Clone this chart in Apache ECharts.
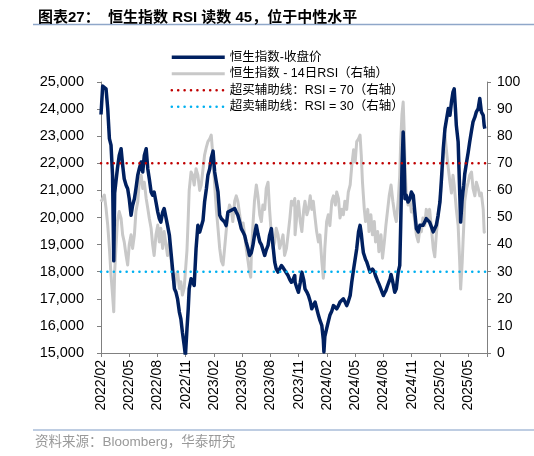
<!DOCTYPE html>
<html>
<head>
<meta charset="utf-8">
<script src="https://cdn.jsdelivr.net/npm/echarts/dist/echarts.min.js"></script>
<style>html,body{margin:0;padding:0;background:#fff}#chart{width:534px;height:456px}</style>
</head>
<body>
<div id="chart"></div>
<script>
// ---- data ----
const dates = [
 '2022-02-01','2022-02-06','2022-02-11','2022-02-16','2022-02-21','2022-02-26','2022-03-03','2022-03-08','2022-03-12','2022-03-15',
 '2022-03-19','2022-03-24','2022-03-30','2022-04-05','2022-04-10','2022-04-15','2022-04-21','2022-04-26','2022-05-01','2022-05-07',
 '2022-05-12','2022-05-18','2022-05-23','2022-05-29','2022-06-03','2022-06-09','2022-06-14','2022-06-19','2022-06-25','2022-06-30',
 '2022-07-05','2022-07-11','2022-07-16','2022-07-21','2022-07-27','2022-08-02','2022-08-07','2022-08-12','2022-08-18','2022-08-23',
 '2022-08-29','2022-09-03','2022-09-09','2022-09-14','2022-09-19','2022-09-25','2022-09-30','2022-10-05','2022-10-11','2022-10-16',
 '2022-10-21','2022-10-27','2022-10-31','2022-11-05','2022-11-09','2022-11-12','2022-11-18','2022-11-23','2022-11-28','2022-12-04',
 '2022-12-10','2022-12-16','2022-12-21','2022-12-27','2023-01-01','2023-01-07','2023-01-12','2023-01-18','2023-01-23','2023-01-29',
 '2023-02-03','2023-02-08','2023-02-13','2023-02-18','2023-02-23','2023-02-28','2023-03-05','2023-03-10','2023-03-16','2023-03-21',
 '2023-03-27','2023-04-01','2023-04-07','2023-04-12','2023-04-17','2023-04-23','2023-04-28','2023-05-04','2023-05-09','2023-05-14',
 '2023-05-20','2023-05-25','2023-05-29','2023-05-31','2023-06-05','2023-06-10','2023-06-16','2023-06-21','2023-06-27','2023-07-02',
 '2023-07-07','2023-07-13','2023-07-18','2023-07-24','2023-07-29','2023-08-04','2023-08-09','2023-08-15','2023-08-20','2023-08-26',
 '2023-08-31','2023-09-06','2023-09-11','2023-09-16','2023-09-22','2023-09-27','2023-10-03','2023-10-08','2023-10-13','2023-10-19',
 '2023-10-20','2023-10-26','2023-10-31','2023-11-06','2023-11-11','2023-11-17','2023-11-21','2023-11-27','2023-12-02','2023-12-08',
 '2023-12-13','2023-12-18','2023-12-24','2023-12-29','2024-01-04','2024-01-09','2024-01-15','2024-01-20','2024-01-22','2024-01-25',
 '2024-01-31','2024-02-05','2024-02-10','2024-02-16','2024-02-21','2024-02-27','2024-03-02','2024-03-08','2024-03-13','2024-03-19',
 '2024-03-24','2024-03-29','2024-04-04','2024-04-09','2024-04-15','2024-04-20','2024-04-26','2024-05-01','2024-05-06','2024-05-12',
 '2024-05-17','2024-05-21','2024-05-25','2024-05-28','2024-05-31','2024-06-04','2024-06-08','2024-06-11','2024-06-15','2024-06-18',
 '2024-06-21','2024-06-26','2024-06-29','2024-07-02','2024-07-06','2024-07-10','2024-07-13','2024-07-17','2024-07-21','2024-07-24',
 '2024-07-29','2024-08-01','2024-08-04','2024-08-09','2024-08-12','2024-08-15','2024-08-20','2024-08-23','2024-08-26','2024-09-01',
 '2024-09-07','2024-09-12','2024-09-18','2024-09-23','2024-09-26','2024-09-30','2024-10-04','2024-10-07','2024-10-10','2024-10-14',
 '2024-10-20','2024-10-26','2024-10-31','2024-11-06','2024-11-11','2024-11-16','2024-11-22','2024-11-27','2024-12-02','2024-12-07',
 '2024-12-13','2024-12-18','2024-12-24','2024-12-29','2025-01-04','2025-01-10','2025-01-15','2025-01-20','2025-01-26','2025-02-01',
 '2025-02-05','2025-02-11','2025-02-16','2025-02-21','2025-02-26','2025-03-03','2025-03-08','2025-03-13','2025-03-17','2025-03-21',
 '2025-03-24','2025-03-30','2025-04-04','2025-04-07','2025-04-12','2025-04-15','2025-04-17','2025-04-20','2025-04-26','2025-05-01',
 '2025-05-06','2025-05-12','2025-05-17','2025-05-23','2025-05-28','2025-06-03','2025-06-08','2025-06-13','2025-06-19','2025-06-22',
 '2025-06-24'
];
const hsiClose = [
 23800,24850,24875,24750,24020,22910,22670,21560,18400,20900,
 21310,21800,22290,22540,21930,21430,21190,21060,20690,20080,
 20440,20690,21060,21560,21800,22050,21680,22290,22540,21800,
 21430,20940,20820,20940,20570,20200,19960,19830,20200,20330,
 20330,19710,19340,18720,18100,17370,17240,17000,16510,16260,
 15770,15280,14900,15900,16630,17370,17740,17740,17490,18850,
 19710,19460,19466,19900,20570,21060,21556,21800,22200,22450,
 21680,21300,20940,20080,19957,19900,19834,19700,20200,20230,
 20266,20300,20330,20200,20080,19830,19590,19460,19340,19100,
 18850,18600,18550,18700,18970,19340,19710,19400,19100,19000,
 18970,18600,18800,18970,19340,19590,19000,18355,18100,17985,
 18100,18230,18150,18100,17950,17860,17700,17610,17700,17860,
 17610,17400,17240,17600,17985,17700,17370,17250,17120,16900,
 16630,16750,16880,16650,16390,16200,16020,15500,15040,15600,
 15900,16150,16390,16550,16750,16700,16630,16750,16880,16950,
 17000,16900,16750,16900,17120,17610,18100,18480,18850,19470,
 19710,19400,18970,18700,18600,18450,18355,18250,18100,17985,
 18050,18100,18100,18000,17850,17740,17650,17550,17490,17350,
 17200,17120,17200,17300,17370,17500,17650,17740,17900,17610,
 17240,17370,17985,18230,19710,21800,23155,22170,20690,20820,
 20570,20690,20940,20820,20200,19590,19470,19710,19710,19710,
 19830,19960,19900,19830,19650,19470,19400,19710,20080,20570,
 21310,22540,23280,23650,24020,23770,24260,24630,24750,24020,
 23400,22790,20940,19830,20690,21000,21190,21600,22050,22400,
 22790,23200,23530,23700,23900,24020,24390,23900,23770,23400,
 23280
];
const rsi14 = [
 55.8,57,58.3,53.4,47.2,38.6,28.8,21.4,15.2,30,
 38.6,48.5,52.2,49.7,43.6,41,36,32.5,40,43.6,
 38.6,43.6,52.2,55.8,63,65.6,60.7,63,57,53.4,
 49.7,46,40,36,43.6,47.2,41,46,38.6,44.8,
 40,36,41,35,28.8,23.8,28.8,30,23.8,26.3,
 21.4,24,24.5,38,50,60,66.8,65.6,62,68,
 65.6,60,62,68,73,76,78,79,80.4,72,
 62,53,46,38.6,34,32.5,38.6,44.8,51,54.6,
 53,48.5,56,58,56,51,46,48,43.6,38.6,
 34,30,28,36,47,56,62,58,51,48.5,
 54.6,53,60.7,63,53,43.6,38.6,41,46,43.6,
 38.6,41,43.6,36,38.6,43.6,49.8,56,54.6,57,
 43.6,51,56,48.5,44.8,53,56,51,53,58,
 53,56,49.8,44.8,41,43.6,34,27.6,30,38.6,
 48.5,51,47,56,58,54.6,59.4,57,49.8,53,
 51,56,53,59.4,62,69,75,70.5,78,79,
 80.4,73,63,58,53,48.5,50,53,44.8,48,
 51,43.6,46,48.5,41,43,44.8,37.4,40,43.6,
 35,38,41,47,50,53,58,60,62,56,
 51,48.5,56,65.6,78,88,92.6,83,69,59,
 54.6,57,52,53,48.5,43.6,41,46,44.8,49.8,
 47,53,49.8,53,46,38.6,35.5,43.6,51,56,
 62,72,80.4,74,68,63,59,65.6,62,57,
 53,47,33.5,23.6,33.5,42,47,56,60.7,63,
 65.6,66.8,60.7,58,63,60.7,58,59,53,44.6,
 45
];
const overbought = 70;
const oversold = 30;
const axisStart = '2022-02-01';
const axisEnd = '2025-07-01';
const leftMin = 15000, leftMax = 25000, leftStep = 1000;
const rightMin = 0, rightMax = 100, rightStep = 10;
const monthStep = 3;
const seriesNames = ['恒生指数-收盘价', '恒生指数 - 14日RSI（右轴）', '超买辅助线：RSI = 70（右轴）', '超卖辅助线：RSI = 30（右轴）'];
const titleText = '图表27：  恒生指数 RSI 读数 45，位于中性水平';
const sourceText = '资料来源：Bloomberg，华泰研究';

// ---- helpers ----
function monthIndex(s) {
  const p = s.split('-').map(Number);
  const dim = new Date(p[0], p[1], 0).getDate();
  return (p[0] - 2022) * 12 + (p[1] - 2) + (p[2] - 1) / dim;
}
function monthLabel(v) {
  if (Math.abs(v / monthStep - Math.round(v / monthStep)) > 1e-6) return '';
  const k = Math.round(v) + 1;
  const y = 2022 + Math.floor(k / 12);
  const m = (k % 12) + 1;
  return y + '/' + String(m).padStart(2, '0');
}
function comma(v) { return String(v).replace(/\B(?=(\d{3})+(?!\d))/g, ','); }

const FONT = "'Liberation Sans', 'Noto Sans CJK SC', sans-serif";
const xs = dates.map(monthIndex);
const hsiData = xs.map((x, i) => [x, hsiClose[i]]);
const rsiData = xs.map((x, i) => [x, rsi14[i]]);
const x0 = monthIndex(axisStart), x1 = monthIndex(axisEnd);

const axisGray = '#808080';
const chart = echarts.init(document.getElementById('chart'), null, { renderer: 'canvas' });
chart.setOption({
  backgroundColor: '#ffffff',
  animation: false,
  textStyle: { fontFamily: FONT },
  title: {
    text: titleText, left: 33, top: 5,
    textStyle: { fontSize: 15, fontWeight: 'bold', color: '#000', fontFamily: FONT }
  },
  legend: {
    orient: 'vertical', left: 165, top: 46,
    itemWidth: 53, itemHeight: 12, itemGap: 4,
    textStyle: { fontSize: 12.5, color: '#000', fontFamily: FONT },
    itemStyle: { opacity: 0 },
    lineStyle: { width: 'inherit' },
    data: seriesNames
  },
  grid: { left: 101, right: 47, top: 82, bottom: 103, containLabel: false },
  xAxis: {
    type: 'value', min: x0, max: x1, interval: monthStep,
    axisLine: { show: true, lineStyle: { color: axisGray, width: 1 } },
    axisTick: { show: true, length: 4, lineStyle: { color: axisGray } },
    axisLabel: { rotate: 90, formatter: monthLabel, fontSize: 14, color: '#000', margin: 7, fontFamily: FONT },
    splitLine: { show: false }
  },
  yAxis: [
    {
      type: 'value', position: 'left', min: leftMin, max: leftMax, interval: leftStep,
      axisLine: { show: true, lineStyle: { color: axisGray, width: 1 } },
      axisTick: { show: true, length: 4, lineStyle: { color: axisGray } },
      axisLabel: { formatter: comma, fontSize: 14.5, color: '#000', margin: 17, fontFamily: FONT },
      splitLine: { show: false }
    },
    {
      type: 'value', position: 'right', min: rightMin, max: rightMax, interval: rightStep,
      axisLine: { show: true, lineStyle: { color: axisGray, width: 1 } },
      axisTick: { show: true, length: 4, lineStyle: { color: axisGray } },
      axisLabel: { fontSize: 14, color: '#000', margin: 10, fontFamily: FONT },
      splitLine: { show: false }
    }
  ],
  series: [
    {
      name: seriesNames[0], type: 'line', yAxisIndex: 0, data: hsiData,
      symbol: 'none', z: 3,
      itemStyle: { color: '#002060' },
      lineStyle: { color: '#002060', width: 3.5, join: 'round' }
    },
    {
      name: seriesNames[1], type: 'line', yAxisIndex: 1, data: rsiData,
      symbol: 'none', z: 2,
      itemStyle: { color: '#c8c8c8' },
      lineStyle: { color: '#c8c8c8', width: 3, join: 'round' }
    },
    {
      name: seriesNames[2], type: 'line', yAxisIndex: 1,
      data: [[x0, overbought], [x1, overbought]],
      symbol: 'none', z: 4,
      itemStyle: { color: '#c00000' },
      lineStyle: { color: '#c00000', width: 2.5, type: [0.1, 6.3], cap: 'round' }
    },
    {
      name: seriesNames[3], type: 'line', yAxisIndex: 1,
      data: [[x0, oversold], [x1, oversold]],
      symbol: 'none', z: 4,
      itemStyle: { color: '#00b0f0' },
      lineStyle: { color: '#00b0f0', width: 2.5, type: [0.1, 6.3], cap: 'round' }
    }
  ],
  graphic: [
    { type: 'line', shape: { x1: 33, y1: 24.5, x2: 534, y2: 24.5 }, style: { stroke: '#8fa7c9', lineWidth: 1.5 } },
    { type: 'line', shape: { x1: 33, y1: 430, x2: 534, y2: 430 }, style: { stroke: '#a9bcd8', lineWidth: 1.5 } },
    { type: 'text', left: 35, top: 436, style: { text: sourceText, fontSize: 13.5, fill: '#999999', fontFamily: FONT } }
  ]
});
</script>
</body>
</html>
